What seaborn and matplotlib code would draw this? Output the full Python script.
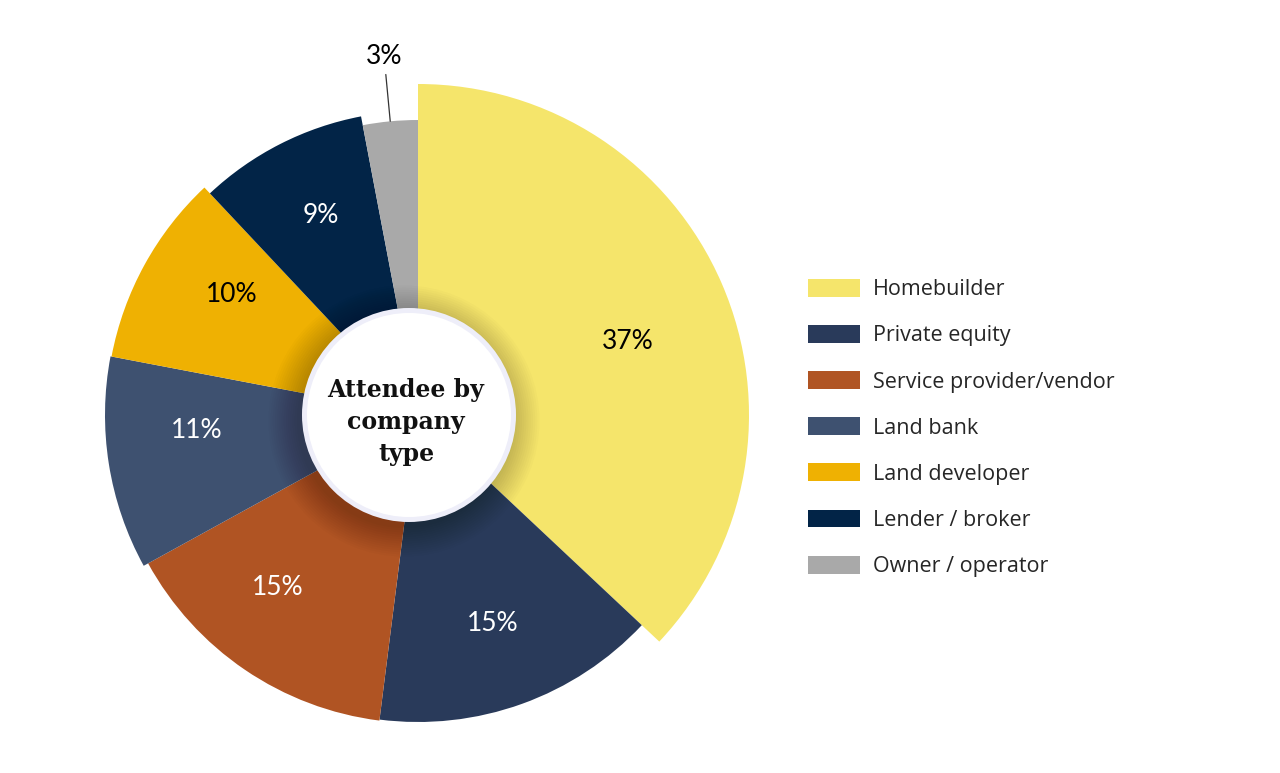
import numpy as np
import matplotlib
matplotlib.use("Agg")
import matplotlib.pyplot as plt
from matplotlib.patches import Circle, Patch
import seaborn as sns

# chart data
categories = ["Homebuilder", "Private equity", "Service provider/vendor",
              "Land bank", "Land developer", "Lender / broker", "Owner / operator"]
shares = [37, 15, 15, 11, 10, 9, 3]
pct_labels = [f"{v}%" for v in shares]
center_title = "Attendee by\ncompany\ntype"

# styling (per slice)
colors = ["#F5E56B", "#293A5A", "#B05423", "#3E5170", "#EFB102", "#022447", "#A9A9A9"]
radii = [331, 307, 308, 313, 312, 304, 295]
label_colors = ["black", "white", "white", "white", "black", "white", "black"]
label_shift = [-4, 0, -5, -5, -4, -1, 0]  # degrees, nudges labels along the arc

W, H = 1280, 773
cx, cy = 418, H - 415

sns.set_theme(style="white")
fig = plt.figure(figsize=(W / 100, H / 100), dpi=100)
ax = fig.add_axes([0, 0, 1, 1])

wedges, _ = ax.pie(shares, colors=colors, startangle=90, counterclock=False,
                   center=(cx, cy), radius=max(radii),
                   wedgeprops=dict(linewidth=0))
for w, r in zip(wedges, radii):
    w.set_radius(r)

# percentage labels
for w, txt, tc, r, sh in zip(wedges, pct_labels, label_colors, radii, label_shift):
    mid = (w.theta1 + w.theta2) / 2
    if w.theta2 - w.theta1 < 20:
        # small slice: label outside with a leader line
        m = np.deg2rad(mid)
        ax.plot([cx + r * np.cos(m), cx + 342 * np.cos(m)],
                [cy + r * np.sin(m), cy + 342 * np.sin(m)],
                color="#333333", lw=0.9)
        d = 360
    else:
        m = np.deg2rad(mid + sh)
        d = 222
    ax.text(cx + d * np.cos(m), cy + d * np.sin(m), txt,
            ha="center", va="center", color=tc, fontsize=19, family="Lato")

# soft shadow + white hub
hx, hy = 409, H - 415
for k in range(14):
    ax.add_patch(Circle((hx - 5, hy - 6), 107 + 2.2 * k, color="black",
                        alpha=0.016, lw=0, zorder=3))
ax.add_patch(Circle((hx, hy), 107, color="#EEEEF9", lw=0, zorder=4))
ax.add_patch(Circle((hx, hy), 102, color="white", lw=0, zorder=5))
ax.text(hx - 3, hy - 7, center_title, ha="center", va="center", fontsize=17,
        fontweight="bold", family="DejaVu Serif", linespacing=1.4, zorder=6,
        color="#111111")

handles = [Patch(facecolor=c, edgecolor="none", label=l) for c, l in zip(colors, categories)]
ax.legend(handles=handles, loc="upper left", bbox_to_anchor=(808 / W, 1 - 279 / H),
          frameon=False, handlelength=2.4, handleheight=0.9, handletextpad=0.6,
          labelspacing=1.15, borderpad=0, borderaxespad=0,
          prop=dict(family="Open Sans", size=15.5))

ax.set_xlim(0, W)
ax.set_ylim(0, H)
ax.set_aspect("equal")
ax.axis("off")

fig.savefig("out.png", dpi=100, facecolor="white")
